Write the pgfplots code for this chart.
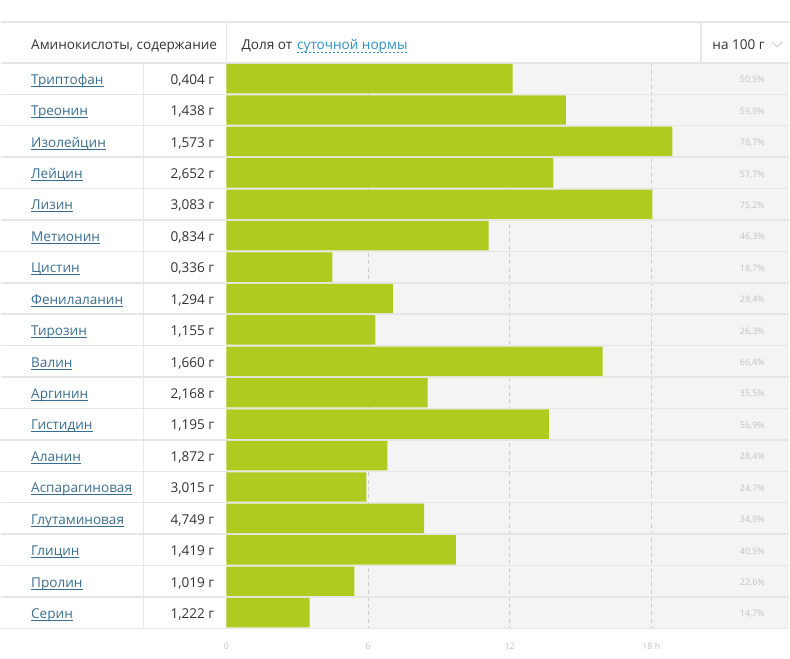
\documentclass[border=0pt]{standalone}
\usepackage{pgfplots}
\usepackage{pgfplotstable}
\pgfplotsset{compat=1.18}
\usepackage{fontspec}
\setmainfont{Open Sans}
\definecolor{barcol}{HTML}{B0CB1F}
\definecolor{bgcol}{HTML}{F4F4F4}
\definecolor{linecol}{HTML}{E6E6E6}
\definecolor{dashcol}{HTML}{CCCCCC}
\definecolor{linkcol}{HTML}{3A6E8F}
\definecolor{txtcol}{HTML}{333333}
\definecolor{hdrblue}{HTML}{2B8FC0}
\definecolor{pctcol}{HTML}{C2C2C2}

\pgfplotstableread[col sep=semicolon]{
name;amount;pct
Триптофан;0,404 г;50.5
Треонин;1,438 г;59.9
Изолейцин;1,573 г;78.7
Лейцин;2,652 г;57.7
Лизин;3,083 г;75.2
Метионин;0,834 г;46.3
Цистин;0,336 г;18.7
Фенилаланин;1,294 г;29.4
Тирозин;1,155 г;26.3
Валин;1,660 г;66.4
Аргинин;2,168 г;35.5
Гистидин;1,195 г;56.9
Аланин;1,872 г;28.4
Аспарагиновая;3,015 г;24.7
Глутаминовая;4,749 г;34.9
Глицин;1,419 г;40.5
Пролин;1,019 г;22.6
Серин;1,222 г;14.7
}\data

\newcommand\mainfs{\fontsize{10.2pt}{12pt}\selectfont}
\newcommand\smallfs{\fontsize{6.7pt}{8pt}\selectfont}
\newcommand\ul[1]{\setbox0\hbox{#1}\rlap{\rule[-1.7pt]{\wd0}{0.55pt}}\box0}
\newcommand\rowlab[4]{%
  \node[anchor=base west,inner sep=0pt,text=linkcol,font=\mainfs] at (axis cs:{(30-226)/23.667},{84.5+31.5*#1}) {\ul{#2}};
  \node[anchor=base east,inner sep=0pt,text=txtcol,font=\mainfs] at (axis cs:{(214-226)/23.667},{84.5+31.5*#1}) {#3};
  \node[anchor=base east,inner sep=0pt,text=pctcol,font=\smallfs] at (axis cs:{(766-226)/23.667},{83+31.5*#1}) {#4};
}

\begin{document}
\begin{tikzpicture}
\begin{axis}[
  scale only axis, width=592.5pt, height=495pt,
  xmin=-9.549, xmax=23.831, ymin=0, ymax=660, y dir=reverse,
  hide axis, clip=false,
]
% full picture extent
\path (axis cs:-9.549,0) rectangle (axis cs:23.831,660);
% background of bar area
\fill[bgcol] (axis cs:0,63) rectangle (axis cs:23.831,630);
% dashed grid
\foreach \g in {6,12,18}{
  \edef\tmp{\noexpand\draw[dashcol, line width=0.75pt, dash pattern=on 3pt off 2.5pt] (axis cs:\g,63) -- (axis cs:\g,630);}\tmp
}
% horizontal lines
\draw[linecol, line width=1.5pt] (axis cs:-9.549,22) -- (axis cs:23.831,22);
\pgfplotsinvokeforeach{0,...,18}{
  \draw[linecol, line width=1.1pt] (axis cs:-9.549,{63+31.5*#1}) -- (axis cs:23.831,{63+31.5*#1});
}
% vertical separators
\draw[linecol, line width=1.1pt] (axis cs:{(143-226)/23.667},63) -- (axis cs:{(143-226)/23.667},630);
\draw[linecol, line width=1.1pt] (axis cs:0,22) -- (axis cs:0,63);
\draw[linecol, line width=1.1pt] (axis cs:{(702-226)/23.667},22) -- (axis cs:{(702-226)/23.667},63);

% bars
\addplot[xbar, bar width=29.5, fill=barcol, draw=none, bar shift=0pt]
  table[x expr={\thisrow{pct}*0.24}, y expr={78.75+31.5*\coordindex}] {\data};

% header
\node[anchor=base west,inner sep=0pt,text=txtcol,font=\mainfs] at (axis cs:{(30-226)/23.667},49.5) {Аминокислоты, содержание};
\node[anchor=base west,inner sep=0pt,text=txtcol,font=\mainfs] (dol) at (axis cs:{(241-226)/23.667},49.5) {Доля от};
\node[anchor=base west,inner sep=0pt,text=hdrblue,font=\mainfs] (sut) at ([xshift=3.3pt]dol.base east) {суточной нормы};
\draw[hdrblue, line width=0.5pt, dash pattern=on 1.5pt off 1.5pt] ([yshift=-2.4pt]sut.base west) -- ([yshift=-2.4pt]sut.base east);
\node[anchor=base west,inner sep=0pt,text=txtcol,font=\mainfs] at (axis cs:{(713-226)/23.667},49.5) {на 100 г};
\draw[pctcol, line width=0.6pt] (axis cs:{(773-226)/23.667},42) -- (axis cs:{(778-226)/23.667},47) -- (axis cs:{(783-226)/23.667},42);

% rows
\rowlab{0}{Триптофан}{0,404 г}{50,5\%}
\rowlab{1}{Треонин}{1,438 г}{59,9\%}
\rowlab{2}{Изолейцин}{1,573 г}{78,7\%}
\rowlab{3}{Лейцин}{2,652 г}{57,7\%}
\rowlab{4}{Лизин}{3,083 г}{75,2\%}
\rowlab{5}{Метионин}{0,834 г}{46,3\%}
\rowlab{6}{Цистин}{0,336 г}{18,7\%}
\rowlab{7}{Фенилаланин}{1,294 г}{29,4\%}
\rowlab{8}{Тирозин}{1,155 г}{26,3\%}
\rowlab{9}{Валин}{1,660 г}{66,4\%}
\rowlab{10}{Аргинин}{2,168 г}{35,5\%}
\rowlab{11}{Гистидин}{1,195 г}{56,9\%}
\rowlab{12}{Аланин}{1,872 г}{28,4\%}
\rowlab{13}{Аспарагиновая}{3,015 г}{24,7\%}
\rowlab{14}{Глутаминовая}{4,749 г}{34,9\%}
\rowlab{15}{Глицин}{1,419 г}{40,5\%}
\rowlab{16}{Пролин}{1,019 г}{22,6\%}
\rowlab{17}{Серин}{1,222 г}{14,7\%}

% axis tick labels
\node[anchor=base,inner sep=0pt,text=pctcol,font=\smallfs] at (axis cs:0,651) {0};
\node[anchor=base,inner sep=0pt,text=pctcol,font=\smallfs] at (axis cs:6,651) {6};
\node[anchor=base,inner sep=0pt,text=pctcol,font=\smallfs] at (axis cs:12,651) {12};
\node[anchor=base,inner sep=0pt,text=pctcol,font=\smallfs] at (axis cs:18,651) {18 h};
\end{axis}
\end{tikzpicture}
\end{document}
